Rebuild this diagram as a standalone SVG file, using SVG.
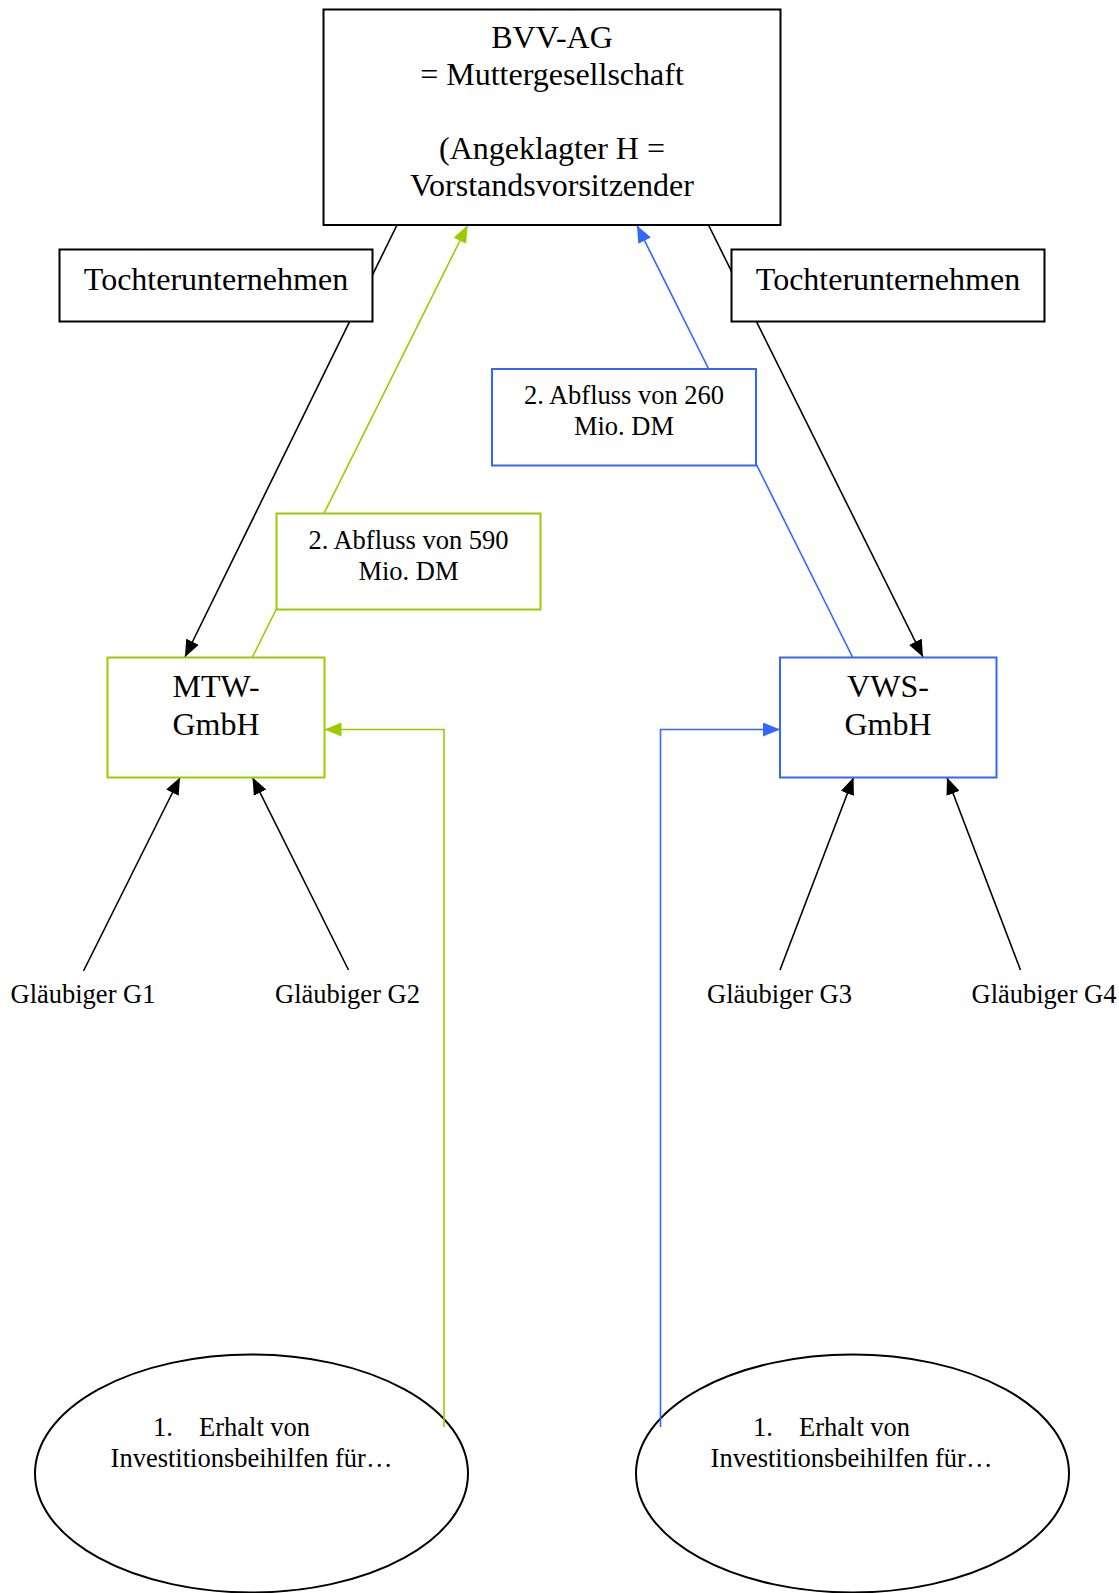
<svg xmlns="http://www.w3.org/2000/svg" width="1119" height="1593" viewBox="0 0 1119 1593">
<style>
  text { font-family: "Liberation Serif", "Times New Roman", serif; fill: #000; text-anchor: middle; }
  .big { font-size: 32px; }
  .small { font-size: 26.5px; }
  .box { fill: #fff; stroke: #000; stroke-width: 2; }
  .gbox { fill: #fff; stroke: #99cc00; stroke-width: 2; }
  .bbox { fill: #fff; stroke: #3366ff; stroke-width: 2; }
  .ell { fill: #fff; stroke: #000; stroke-width: 2; }
  .cb { fill: none; stroke: #000; stroke-width: 1.6; }
  .cg { fill: none; stroke: #99cc00; stroke-width: 1.6; }
  .cbl { fill: none; stroke: #3366ff; stroke-width: 1.6; }
</style>
<defs>
  <marker id="ab" markerUnits="userSpaceOnUse" markerWidth="18" markerHeight="14" refX="17" refY="7" orient="auto" viewBox="0 0 18 14">
    <path d="M0,0 L17,7 L0,14 z" fill="#000"/>
  </marker>
  <marker id="ag" markerUnits="userSpaceOnUse" markerWidth="18" markerHeight="14" refX="17" refY="7" orient="auto" viewBox="0 0 18 14">
    <path d="M0,0 L17,7 L0,14 z" fill="#99cc00"/>
  </marker>
  <marker id="abl" markerUnits="userSpaceOnUse" markerWidth="18" markerHeight="14" refX="17" refY="7" orient="auto" viewBox="0 0 18 14">
    <path d="M0,0 L17,7 L0,14 z" fill="#3366ff"/>
  </marker>
</defs>

<g id="ellipse-left">
  <ellipse class="ell" cx="251.5" cy="1473.5" rx="216.5" ry="119"/>
  <text class="small" x="153" y="1436" style="text-anchor:start">1.</text>
  <text class="small" x="199" y="1436" style="text-anchor:start">Erhalt von</text>
  <text class="small" x="251.5" y="1466.5">Investitionsbeihilfen für…</text>
</g>
<g id="ellipse-right">
  <ellipse class="ell" cx="852.5" cy="1473.5" rx="216.5" ry="119"/>
  <text class="small" x="753" y="1436" style="text-anchor:start">1.</text>
  <text class="small" x="799" y="1436" style="text-anchor:start">Erhalt von</text>
  <text class="small" x="851.5" y="1466.5">Investitionsbeihilfen für…</text>
</g>

<g id="connectors">
  <line class="cb" x1="397" y1="225" x2="185" y2="657" marker-end="url(#ab)"/>
  <line class="cb" x1="708.5" y1="225" x2="923" y2="657" marker-end="url(#ab)"/>
  <line class="cg" x1="252.5" y1="657" x2="467.5" y2="225.5" marker-end="url(#ag)"/>
  <line class="cbl" x1="852.5" y1="657" x2="637" y2="225.5" marker-end="url(#abl)"/>
  <polyline class="cg" points="444,1427 444,729.5 324.5,729.5" marker-end="url(#ag)"/>
  <polyline class="cbl" points="660.5,1427 660.5,729.5 780,729.5" marker-end="url(#abl)"/>
  <line class="cb" x1="83.5" y1="971" x2="180" y2="777.5" marker-end="url(#ab)"/>
  <line class="cb" x1="348.5" y1="970" x2="252.5" y2="777.5" marker-end="url(#ab)"/>
  <line class="cb" x1="780" y1="970" x2="853.5" y2="777.5" marker-end="url(#ab)"/>
  <line class="cb" x1="1020.5" y1="970" x2="947" y2="777.5" marker-end="url(#ab)"/>
</g>

<g id="bvv">
  <rect class="box" x="323.5" y="9.5" width="457" height="215.5"/>
  <text class="big" x="552" y="48">BVV-AG</text>
  <text class="big" x="552" y="85">= Muttergesellschaft</text>
  <text class="big" x="552" y="159">(Angeklagter H =</text>
  <text class="big" x="552" y="196">Vorstandsvorsitzender</text>
</g>
<g id="tochter-left">
  <rect class="box" x="59.5" y="249.5" width="313" height="72"/>
  <text class="big" x="216" y="290">Tochterunternehmen</text>
</g>
<g id="tochter-right">
  <rect class="box" x="731.5" y="249.5" width="313" height="72"/>
  <text class="big" x="888" y="290">Tochterunternehmen</text>
</g>
<g id="abfluss-260">
  <rect class="bbox" x="492" y="369" width="264" height="96.5"/>
  <text class="small" x="624" y="403.5">2. Abfluss von 260</text>
  <text class="small" x="624" y="435">Mio. DM</text>
</g>
<g id="abfluss-590">
  <rect class="gbox" x="276.5" y="513.5" width="264" height="96"/>
  <text class="small" x="408.5" y="548.5">2. Abfluss von 590</text>
  <text class="small" x="408.5" y="580">Mio. DM</text>
</g>
<g id="mtw">
  <rect class="gbox" x="107.5" y="657.5" width="217" height="120"/>
  <text class="big" x="216" y="697">MTW-</text>
  <text class="big" x="216" y="735">GmbH</text>
</g>
<g id="vws">
  <rect class="bbox" x="780" y="657.5" width="216.5" height="120"/>
  <text class="big" x="888" y="697">VWS-</text>
  <text class="big" x="888" y="735">GmbH</text>
</g>
<g id="g1"><text class="small" x="83" y="1002.5">Gläubiger G1</text></g>
<g id="g2"><text class="small" x="347.5" y="1002.5">Gläubiger G2</text></g>
<g id="g3"><text class="small" x="779.5" y="1002.5">Gläubiger G3</text></g>
<g id="g4"><text class="small" x="1044" y="1002.5">Gläubiger G4</text></g>
</svg>
